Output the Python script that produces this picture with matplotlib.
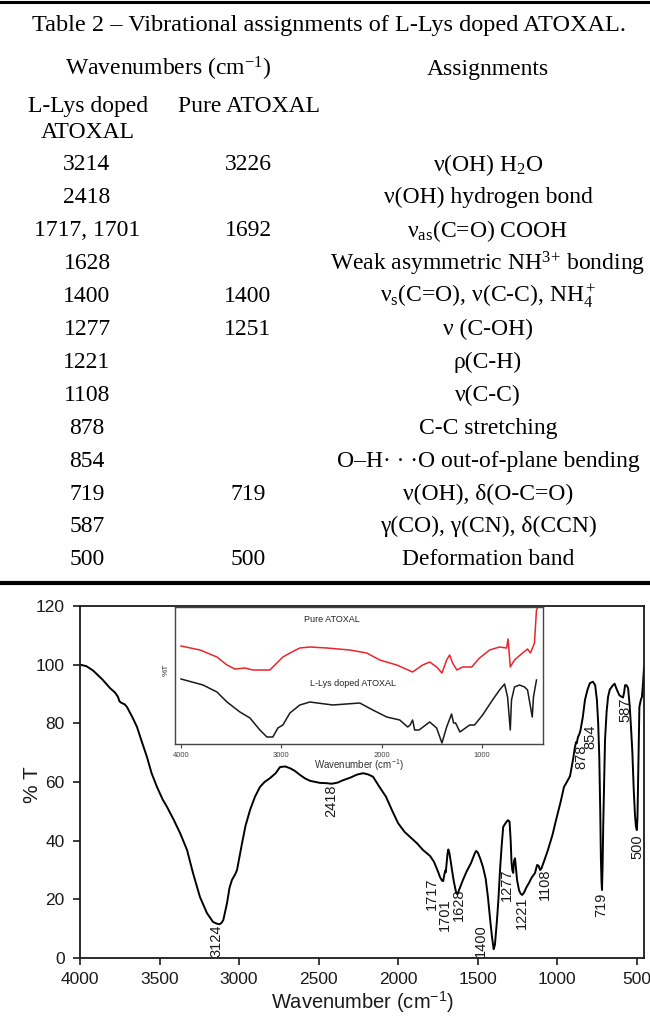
import matplotlib
matplotlib.use("Agg")
import matplotlib.pyplot as plt
from matplotlib.lines import Line2D

plt.rcParams['mathtext.fontset'] = 'custom'
plt.rcParams['mathtext.rm'] = 'Liberation Serif'
plt.rcParams['mathtext.it'] = 'Liberation Serif:italic'
plt.rcParams['mathtext.bf'] = 'Liberation Serif:bold'
plt.rcParams['mathtext.sf'] = 'Liberation Sans'

# ---------------- table content ----------------
table_title = "Table 2 – Vibrational assignments of L-Lys doped ATOXAL."
group_header = "Wavenumbers (cm$^{-1}$)"
assign_header = "Assignments"
col1_header = ["L-Lys doped", "ATOXAL"]
col2_header = "Pure ATOXAL"

lys_bands = ["3214", "2418", "1717, 1701", "1628", "1400", "1277", "1221",
             "1108", "878", "854", "719", "587", "500"]
pure_bands = ["3226", "", "1692", "", "1400", "1251", "", "", "", "", "719", "", "500"]
assignments = [
    "ν(OH) H$_2$O",
    "ν(OH) hydrogen bond",
    "ν$_{\\mathrm{as}}$(C=O) COOH",
    "Weak asymmetric NH$^{3}$$^{+}$ bonding",
    "ν$_{\\mathrm{s}}$(C=O), ν(C-C), NH$_4^+$",
    "ν (C-OH)",
    "ρ(C-H)",
    "ν(C-C)",
    "C-C stretching",
    "O–H· · ·O out-of-plane bending",
    "ν(OH), δ(O-C=O)",
    "γ(CO), γ(CN), δ(CCN)",
    "Deformation band",
]

# ---------------- main FTIR spectrum (L-Lys doped ATOXAL) ----------------
wavenumber = [
    4000, 3960, 3918, 3860, 3811, 3780, 3761, 3752, 3740, 3720, 3705, 3670, 3642,
    3610, 3579, 3550, 3516, 3480, 3453, 3410, 3371, 3327, 3290, 3246, 3202, 3164,
    3140, 3124, 3110, 3099, 3076, 3060, 3045, 3025, 3013, 2982, 2960, 2931, 2900,
    2869, 2840, 2806, 2770, 2743, 2710, 2680, 2650, 2617, 2585, 2554, 2520, 2492,
    2450, 2418, 2380, 2347, 2300, 2260, 2221, 2190, 2158, 2120, 2077, 2040, 2001,
    1960, 1920, 1880, 1844, 1800, 1775, 1750, 1738, 1725, 1717, 1710, 1704, 1701,
    1697, 1690, 1685, 1679, 1670, 1662, 1650, 1636, 1628, 1615, 1593, 1570, 1542,
    1520, 1510, 1500, 1485, 1467, 1450, 1436, 1420, 1410, 1400, 1392, 1379, 1370,
    1360, 1350, 1340, 1325, 1310, 1300, 1293, 1288, 1283, 1277, 1272, 1266, 1262,
    1253, 1240, 1230, 1221, 1210, 1195, 1178, 1160, 1140, 1127, 1118, 1108, 1100,
    1080, 1059, 1030, 1008, 980, 958, 940, 920, 900, 889, 882, 878, 870, 860, 854,
    840, 826, 810, 795, 776, 762, 751, 743, 736, 730, 726, 722, 719, 715, 711, 705,
    700, 690, 681, 670, 650, 640, 625, 610, 600, 587, 580, 574, 565, 555, 545, 536,
    528, 520, 512, 506, 500, 496, 492, 484, 475, 468, 462, 455,
]
transmittance = [
    100, 99.5, 98, 95, 92, 90.5, 89, 87.5, 87, 86.5, 85.6, 82, 78.8,
    73.5, 68.5, 63, 58.3, 54, 51.5, 47, 42.6, 36.8, 29, 20.8, 15.3, 12.3,
    11.7, 11.5, 12, 13, 18.7, 24, 26.6, 28.5, 30, 39, 45, 50.5, 55,
    58.3, 60, 61.3, 63, 65.1, 65.3, 64.7, 63.8, 62.4, 61.2, 60.4, 60, 59.7,
    59.6, 59.4, 59.8, 60.6, 61.5, 62.5, 63, 62.6, 61.8, 58.5, 55, 50.5, 46,
    43, 41, 39, 36.8, 34.8, 32.8, 29.5, 27.7, 26.4, 26.2, 28.5, 29.8, 29.2,
    31.5, 35.5, 37, 36, 33, 30, 26, 22.3, 21.7, 23.5, 26.6, 29.5, 32.4,
    35.5, 36.5, 36, 34, 31, 27, 20.8, 12, 7, 3, 4.5, 13, 20,
    30, 38, 44.7, 46, 47, 46.5, 40, 33, 30, 29, 33, 34, 32,
    26.6, 23, 21.9, 21.5, 22.2, 24, 25.6, 27.5, 29, 31.7, 31.5, 30, 30.5,
    33.5, 36.8, 42, 47, 53, 58.3, 60, 62, 68, 72, 73.6, 73.2, 75.3, 76.5, 77.7,
    82, 88, 91.5, 93.7, 94.2, 93, 88, 80, 68.5, 50, 34, 26, 23.2, 32, 46, 62,
    74.3, 84, 89, 91.5, 93, 93.5, 91.4, 89.6, 89.2, 88.8, 90.5, 93, 93, 92, 86, 78,
    70, 58, 49, 45, 43.6, 48, 60, 85.6, 88, 89, 93, 99,
]

# labelled band positions (cm-1) with text anchors
peak_labels = ["3124", "2418", "1717", "1701", "1628", "1400", "1277",
               "1221", "1108", "878", "854", "719", "587", "500"]
label_x = [3142, 2422, 1788, 1706, 1621, 1480, 1316, 1222, 1080, 848, 795, 725, 571, 499]
label_y = [5.8, 53.5, 22, 14.8, 18, 6, 25, 15.5, 25, 68.7, 75.4, 18, 84.6, 37.8]

# ---------------- inset spectra (offset, arbitrary units) ----------------
pure_wn = [4000, 3811, 3642, 3542, 3463, 3363, 3284, 3114, 3065, 2985, 2896, 2816,
           2716, 2547, 2318, 2149, 2020, 1851, 1692, 1592, 1522, 1453, 1400, 1353,
           1323, 1294, 1251, 1194, 1104, 1025, 925, 826, 756, 741, 719, 677, 597,
           547, 518, 498, 478, 458, 448]
pure_T = [98, 94, 87, 79, 75, 76, 74, 74, 79, 87, 92, 96,
          97, 96, 94, 91, 84, 79, 72, 79, 82, 77, 71, 84,
          89, 81, 74, 77, 77, 86, 94, 97, 96, 105, 77, 84, 91,
          95, 91, 96, 101, 134, 136]

lys_wn_inset = [4000, 3781, 3642, 3542, 3413, 3313, 3214, 3144, 3085, 3035, 2985,
                2915, 2816, 2716, 2488, 2219, 2089, 1950, 1821, 1741, 1717, 1692,
                1672, 1628, 1522, 1453, 1400, 1353, 1304, 1284, 1264, 1221, 1124,
                1075, 995, 896, 826, 776, 746, 719, 707, 677, 627, 577, 547, 500,
                488, 458]
lys_T_inset = [65, 59, 52, 42, 32, 26, 14, 7, 7, 16, 19,
               31, 39, 42, 39, 41, 34, 27, 24, 17, 19, 24,
               14, 14, 22, 16, 1, 17, 30, 21, 21, 12, 19,
               19, 29, 44, 54, 60, 47, 14, 44, 57, 59, 57, 54, 27,
               47, 64]

# ---------------- figure ----------------
W, H = 650, 1018
fig = plt.figure(figsize=(W / 100, H / 100), dpi=100)


def fx(px):
    return px / W


def fy(py):
    return 1 - py / H


serif = "Liberation Serif"
sans = "Liberation Sans"
tsize = 17

# table rules
fig.add_artist(Line2D([0, 1], [fy(1.5), fy(1.5)], color="black", lw=2.2))
fig.add_artist(Line2D([0, 1], [fy(583), fy(583)], color="black", lw=3.0))

fig.text(fx(329), fy(26), table_title, family=serif, fontsize=17.5, ha="center", va="center")
fig.text(fx(168), fy(69), group_header, family=serif, fontsize=tsize, ha="center", va="center")
fig.text(fx(488), fy(69), assign_header, family=serif, fontsize=tsize, ha="center", va="center")
fig.text(fx(88), fy(106), col1_header[0], family=serif, fontsize=tsize, ha="center", va="center")
fig.text(fx(88), fy(133), col1_header[1], family=serif, fontsize=tsize, ha="center", va="center")
fig.text(fx(249), fy(106), col2_header, family=serif, fontsize=tsize, ha="center", va="center")

row0, row_step = 165, 32.9
for i, (a, b, c) in enumerate(zip(lys_bands, pure_bands, assignments)):
    yy = fy(row0 + i * row_step)
    fig.text(fx(87), yy, a, family=serif, fontsize=tsize, ha="center", va="center")
    if b:
        fig.text(fx(248), yy, b, family=serif, fontsize=tsize, ha="center", va="center")
    fig.text(fx(488), yy, c, family=serif, fontsize=tsize, ha="center", va="center")

# main spectrum axes
ax = fig.add_axes([fx(80), fy(958), (644 - 80) / W, (958 - 606) / H])
ax.plot(wavenumber, transmittance, color="black", lw=1.4)
ax.set_xlim(4000, 455)
ax.set_ylim(0, 120)
ax.set_xticks([4000, 3500, 3000, 2500, 2000, 1500, 1000, 500])
ax.set_yticks([0, 20, 40, 60, 80, 100, 120])
ax.tick_params(direction="out", length=5, width=1.2, labelsize=12.5, colors="#1a1a1a")
ax.tick_params(axis="x", pad=5)
ax.tick_params(axis="y", pad=6)
for lab in ax.get_xticklabels() + ax.get_yticklabels():
    lab.set_family(sans)
for sp in ax.spines.values():
    sp.set_linewidth(1.3)
    sp.set_color("#1a1a1a")

for s, x, y in zip(peak_labels, label_x, label_y):
    ax.text(x, y, s, rotation=90, ha="center", va="center", family=sans,
            fontsize=10.5, color="#1a1a1a")

fig.text(fx(33), fy(785), "% T", rotation=90, family=sans, fontsize=15,
         ha="center", va="center", color="#1a1a1a")
fig.text(fx(362), fy(1002), "Wavenumber (cm$^{\\mathsf{-1}}$)", family=sans,
         fontsize=14.5, ha="center", va="center", color="#1a1a1a")

# inset comparison of both samples
axin = fig.add_axes([fx(175), fy(744), (543 - 175) / W, (744 - 607) / H])
axin.set_facecolor("white")
axin.plot(pure_wn, pure_T, color="#e8262b", lw=1.1)
axin.plot(lys_wn_inset, lys_T_inset, color="#1a1a1a", lw=1.1)
axin.set_xlim(4060, 393)
axin.set_ylim(0, 137)
axin.set_xticks([4000, 3000, 2000, 1000])
axin.set_yticks([])
axin.tick_params(axis="x", direction="out", length=3, width=0.8, labelsize=5.5,
                 pad=3, colors="#444444")
for lab in axin.get_xticklabels():
    lab.set_family(sans)
for sp in axin.spines.values():
    sp.set_linewidth(1.0)
    sp.set_color("#444444")
axin.text(2497, 125, "Pure ATOXAL", family=sans, fontsize=6.5, ha="center",
          va="center", color="#222222")
axin.text(2289, 61, "L-Lys doped ATOXAL", family=sans, fontsize=6.5, ha="center",
          va="center", color="#222222")
fig.text(fx(359), fy(765), "Wavenumber (cm$^{\\mathsf{-1}}$)", family=sans,
         fontsize=7, ha="center", va="center", color="#333333")
fig.text(fx(166), fy(670), "%T", rotation=90, family=sans, fontsize=6,
         ha="center", va="center", color="#333333")

fig.savefig("out.png", dpi=100, facecolor="white")
